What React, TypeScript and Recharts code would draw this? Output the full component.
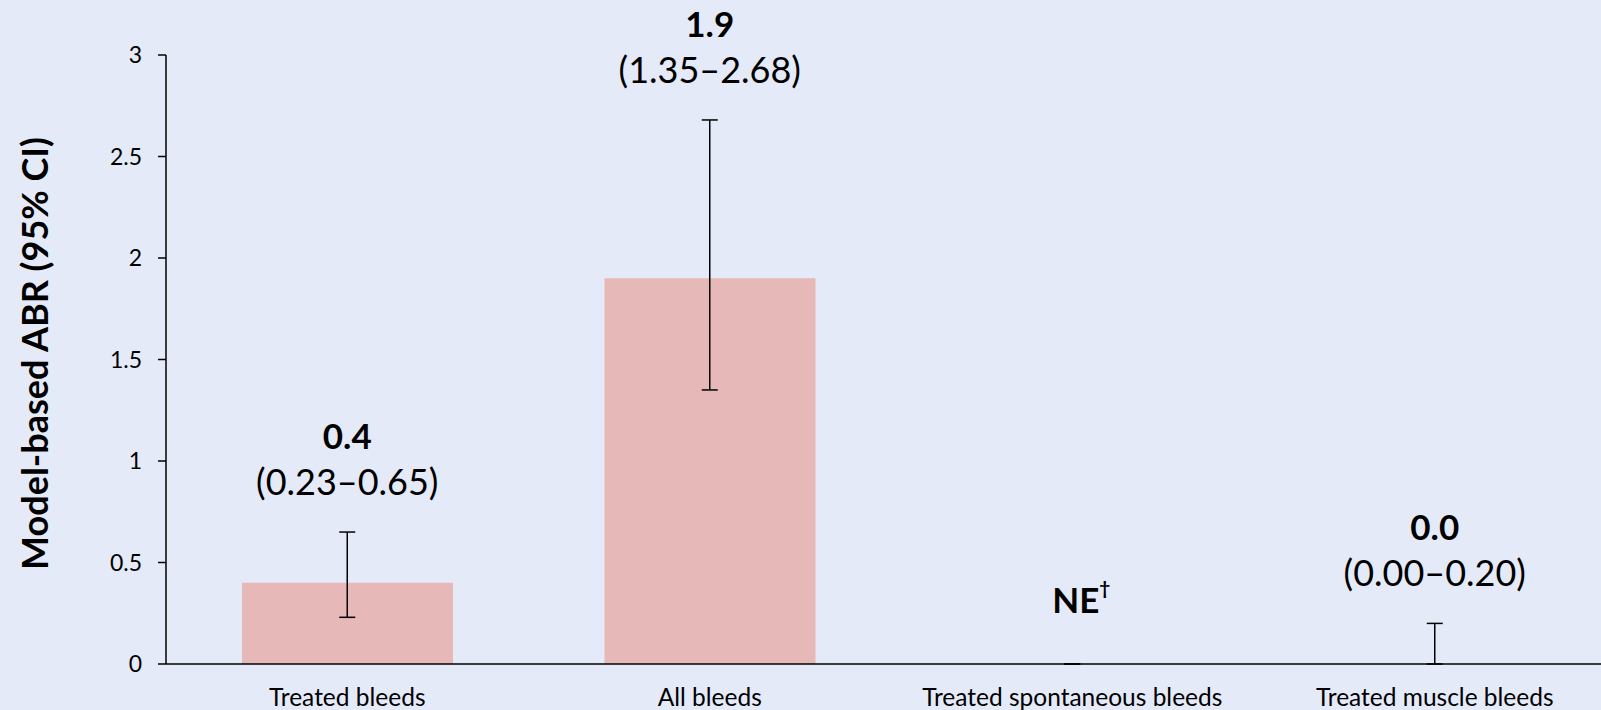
import React from 'react';
import { ComposedChart, Bar, Line, ErrorBar, XAxis, YAxis, LabelList } from 'recharts';

const categories = ['Treated bleeds', 'All bleeds', 'Treated spontaneous bleeds', 'Treated muscle bleeds'];
const abrValues = [0.4, 1.9, 0, 0.0];
const ciLower: (number | null)[] = [0.23, 1.35, null, 0.0];
const ciUpper: (number | null)[] = [0.65, 2.68, null, 0.2];
const valueLabels = ['0.4', '1.9', 'NE', '0.0'];
const ciLabels = ['(0.23–0.65)', '(1.35–2.68)', '', '(0.00–0.20)'];
const estimable = [true, true, false, true];
const yTicks = [0, 0.5, 1, 1.5, 2, 2.5, 3];
const yAxisTitle = 'Model-based ABR (95% CI)';

const data = categories.map((name, i) => ({
  name,
  abr: abrValues[i],
  err: [abrValues[i] - (ciLower[i] ?? abrValues[i]), (ciUpper[i] ?? abrValues[i]) - abrValues[i]],
  top: ciUpper[i] ?? abrValues[i],
}));

const FONT = 'Lato, "Open Sans", sans-serif';

const renderLabel = (props: any) => {
  const { x, y, index } = props;
  if (x == null || y == null) return null;
  if (!estimable[index]) {
    return (
      <text x={x + 9} y={y - 65} textAnchor="middle" dominantBaseline="central" fontWeight="bold" fontSize={35} fontFamily={FONT} fill="#000">
        {valueLabels[index]}
        <tspan dy={-12} fontSize={19}>†</tspan>
      </text>
    );
  }
  return (
    <g>
      <text x={x} y={y - 97} textAnchor="middle" dominantBaseline="central" fontWeight="bold" fontSize={35} fontFamily={FONT} fill="#000">
        {valueLabels[index]}
      </text>
      <text x={x} y={y - 51} textAnchor="middle" dominantBaseline="central" fontSize={36} fontFamily={FONT} fill="#000">
        {ciLabels[index]}
      </text>
    </g>
  );
};

const renderYTitle = (props: any) => {
  const vb = props.viewBox || {};
  const cx = (vb.x ?? 0) + 34;
  const cy = (vb.y ?? 55) + (vb.height ?? 609) / 2 - 6;
  return (
    <text x={cx} y={cy} transform={`rotate(-90, ${cx}, ${cy})`} textAnchor="middle" dominantBaseline="central" fontWeight="bold" fontSize={36} fontFamily={FONT} fill="#000">
      {yAxisTitle}
    </text>
  );
};

export default function App() {
  return (
    <div style={{ position: 'fixed', left: 0, top: 0, width: 1601, height: 710, overflow: 'hidden', background: '#E5EAF9' }}>
      <ComposedChart width={1620} height={710} data={data} margin={{ top: 55, right: 4, bottom: 0, left: 0 }} barSize={211}>
        <XAxis
          dataKey="name"
          axisLine={{ stroke: '#000', strokeWidth: 1.5 }}
          tickLine={false}
          tick={{ fill: '#000', fontSize: 24.5, fontFamily: FONT }}
          tickSize={6}
          tickMargin={19}
          height={46}
          interval={0}
        />
        <YAxis
          domain={[0, 3]}
          ticks={yTicks}
          width={166}
          axisLine={{ stroke: '#000', strokeWidth: 1.5 }}
          tickLine={{ stroke: '#000', strokeWidth: 1.5 }}
          tickSize={8}
          tickMargin={16}
          tick={{ fill: '#000', fontSize: 23, fontFamily: FONT }}
          label={{ content: renderYTitle }}
        />
        <Bar dataKey="abr" fill="#E6B8B7" isAnimationActive={false} />
        <Line dataKey="abr" stroke="none" dot={false} activeDot={false} isAnimationActive={false}>
          <ErrorBar dataKey="err" width={8} stroke="#000" strokeWidth={1.5} />
        </Line>
        <Line dataKey="top" stroke="none" dot={false} activeDot={false} isAnimationActive={false}>
          <LabelList dataKey="top" content={renderLabel} />
        </Line>
      </ComposedChart>
    </div>
  );
}
